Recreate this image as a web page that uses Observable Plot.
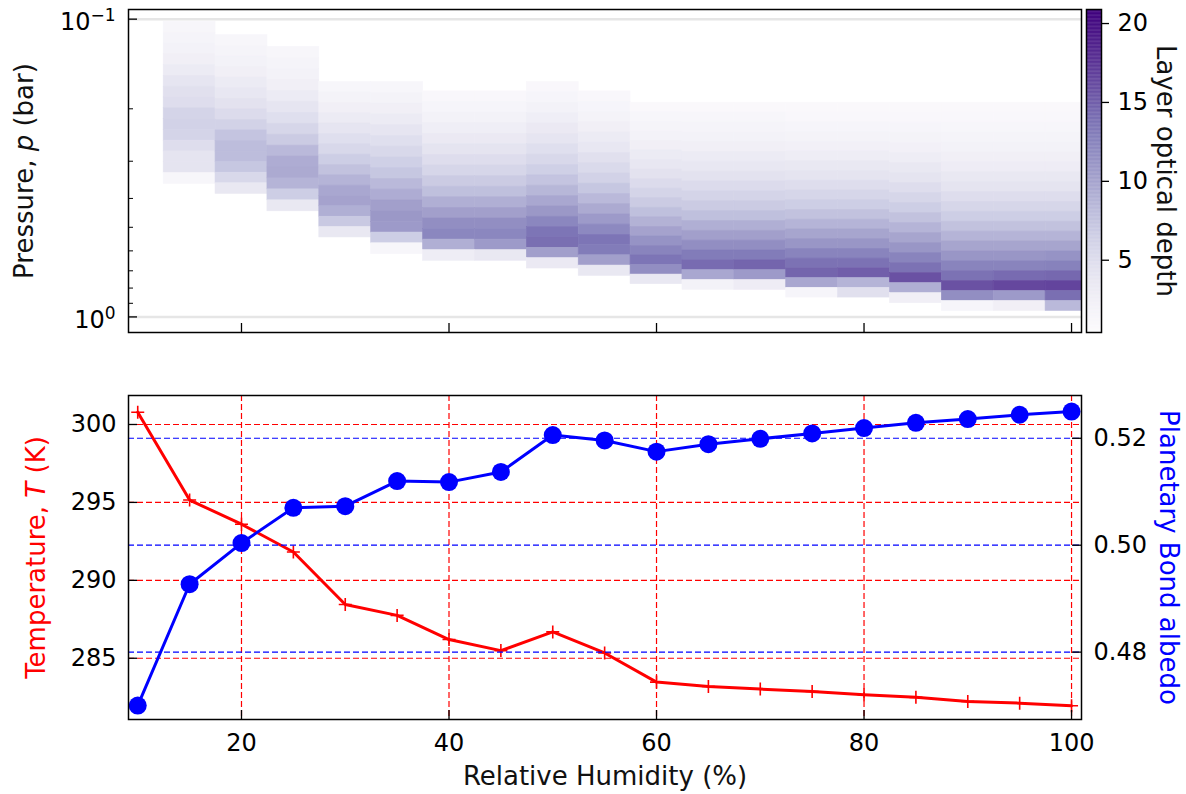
<!DOCTYPE html>
<html><head><meta charset="utf-8">
<script src="https://cdn.jsdelivr.net/npm/d3@7"></script>
<script src="https://cdn.jsdelivr.net/npm/@observablehq/plot@0.6"></script>
<style>
body{margin:0;background:#fff;}
#wrap{position:relative;width:1186px;height:794px;overflow:hidden;background:#fff;}
</style></head><body><div id="wrap"></div>
<script>
// ---------- data ----------
const humidity = [10,15,20,25,30,35,40,45,50,55,60,65,70,75,80,85,90,95,100];
const temperature = [300.79,295.15,293.6,291.82,288.45,287.75,286.2,285.49,286.69,285.34,283.47,283.19,283.02,282.87,282.66,282.49,282.23,282.12,281.95];
const albedo = [0.4700,0.4927,0.5004,0.5070,0.5073,0.5120,0.5118,0.5137,0.5206,0.5196,0.5175,0.5189,0.5199,0.5209,0.5219,0.5229,0.5236,0.5244,0.5250];

const cloudHumidity = [15,20,25,30,35,40,45,50,55,60,65,70,75,80,85,90,95,100];
const cloudTopP    = [0.1021,0.1132,0.1240,0.1626,0.1626,0.1748,0.1748,0.1626,0.1748,0.1907,0.1907,0.1907,0.1907,0.1907,0.1907,0.1907,0.1907,0.1907];
const cloudBottomP = [0.3574,0.3862,0.4419,0.5408,0.6151,0.6477,0.6477,0.6877,0.7277,0.7760,0.8111,0.8111,0.8610,0.8610,0.8992,0.9545,0.9545,0.9545];

const depthRH15 = [1.3,1.7,2.1,2.5,3.2,4.0,4.6,5.0,6.0,6.2,6.0,5.0,4.2,4.2,1.3];
const depthRH20 = [1.3,1.7,2.1,2.5,3.2,3.8,4.4,5.2,6.2,7.4,8.0,8.0,7.2,5.6,3.6];
const depthRH25 = [1.3,1.7,2.1,2.5,3.2,4.0,4.8,5.8,6.8,8.3,9.3,9.5,8.7,6.6,3.6];
const depthRH30 = [1.3,1.9,2.5,3.2,4.0,4.8,5.6,6.6,7.6,8.7,9.7,10.1,9.1,7.0,3.6];
const depthRH35 = [1.3,1.9,2.5,3.2,4.0,4.8,5.6,6.4,7.2,8.3,9.3,10.3,10.9,10.7,6.6,1.3];
const depthRH40 = [1.1,1.5,2.1,2.7,3.4,4.2,5.0,5.8,6.8,7.8,9.1,10.3,11.7,12.3,9.1,2.9];
const depthRH45 = [1.1,1.5,2.1,2.7,3.4,4.2,5.0,5.8,6.8,7.8,9.1,10.3,11.7,12.3,10.7,3.6];
const depthRH50 = [1.1,1.5,2.1,2.7,3.4,4.0,4.8,5.6,6.4,7.4,8.5,9.7,10.9,12.3,13.6,14.0,10.3,3.4];
const depthRH55 = [1.1,1.5,1.9,2.5,3.2,3.8,4.6,5.4,6.2,7.2,8.3,9.5,10.7,12.1,13.6,13.1,10.3,3.6];
const depthRH60 = [0.9,1.3,1.7,2.1,2.5,3.2,3.8,4.4,5.2,6.0,6.8,7.8,8.9,10.1,11.3,12.5,13.6,11.7,3.6];
const depthRH65 = [0.9,1.3,1.7,2.1,2.5,3.2,3.8,4.4,5.2,6.0,6.8,7.8,9.1,10.3,11.7,13.1,14.2,9.7,2.1];
const depthRH70 = [0.9,1.3,1.7,2.1,2.5,3.2,3.8,4.4,5.2,6.0,6.8,7.8,9.1,10.3,11.7,13.1,14.6,10.7,3.0];
const depthRH75 = [0.9,1.1,1.5,1.9,2.3,2.9,3.6,4.2,5.0,5.8,6.6,7.6,8.7,9.9,11.1,12.5,13.8,14.6,9.7,1.5];
const depthRH80 = [0.9,1.1,1.5,1.9,2.3,2.9,3.6,4.2,5.0,5.8,6.6,7.6,8.7,9.9,11.1,12.5,13.8,15.0,8.7,4.6];
const depthRH85 = [0.9,1.1,1.5,1.9,2.3,2.9,3.6,4.2,5.0,5.8,6.6,7.6,8.7,9.9,11.1,12.5,13.8,15.8,9.1,2.5];
const depthRH90 = [0.9,1.1,1.3,1.7,2.1,2.5,3.0,3.6,4.2,5.0,5.8,6.6,7.6,8.7,9.9,11.1,12.5,13.8,15.8,11.7,1.5];
const depthRH95 = [0.9,1.1,1.3,1.7,2.1,2.5,3.0,3.6,4.2,5.0,5.8,6.6,7.6,8.7,9.9,11.1,12.5,14.2,16.4,10.7,2.5];
const depthRH100 = [0.9,1.1,1.3,1.7,2.1,2.5,3.0,3.6,4.2,5.0,5.8,6.6,7.6,8.7,9.9,11.3,12.7,14.4,16.6,14.0,8.3];
const depthColumns = [depthRH15,depthRH20,depthRH25,depthRH30,depthRH35,depthRH40,depthRH45,depthRH50,depthRH55,depthRH60,depthRH65,depthRH70,depthRH75,depthRH80,depthRH85,depthRH90,depthRH95,depthRH100];

const humidityTicks = [20,40,60,80,100];
const tempTicks = [285,290,295,300];
const albedoTicks = [0.48,0.50,0.52];
const depthTicks = [5,10,15,20];
const pressureMajor = [0.1,1];
const pressureBase = ["10","10"];
const pressureExp = ["\u22121","0"];
const pressureMinor = [0.2,0.3,0.4,0.5,0.6,0.7,0.8,0.9];

const xLabel = "Relative Humidity (%)";
const pLabel = "Pressure, p (bar)";
const tLabel = "Temperature, T (K)";
const aLabel = "Planetary Bond albedo";
const dLabel = "Layer optical depth";

// ---------- layout ----------
const W = 1186, FONT = "DejaVu Sans", FS = 24, LFS = 26;
const xDomain = [9.11, 100.96];
const depthDomain = [0.42, 20.89];
const mL = 128, mR = 105;
const innerW = W - mL - mR;

const baseStyle = {background:"transparent", fontFamily:FONT, fontSize:FS+"px", color:"black", overflow:"visible"};
const labelOpts = {fontSize:LFS, textAnchor:"middle", lineAnchor:"middle"};

// heatmap cells
const cells = [];
const halfStep = (cloudHumidity[1]-cloudHumidity[0])/2;
cloudHumidity.forEach((rh,i)=>{
  const vals = depthColumns[i], n = vals.length;
  const lt = Math.log10(cloudTopP[i]), lb = Math.log10(cloudBottomP[i]);
  vals.forEach((v,k)=>{
    cells.push({x1:rh-halfStep, x2:rh+halfStep, y1:10**(lt+(lb-lt)*k/n), y2:10**(lt+(lb-lt)*(k+1)/n), v});
  });
});

const topH = 340, topMT = 9, topMB = 8, topInnerH = topH-topMT-topMB;
const heat = Plot.plot({
  width:W, height:topH, marginLeft:mL, marginRight:mR, marginTop:topMT, marginBottom:topMB,
  style:baseStyle,
  x:{domain:xDomain, axis:null},
  y:{type:"log", domain:[1.128,0.0928]},
  color:{type:"linear", scheme:"purples", domain:depthDomain},
  marks:[
    Plot.rect(cells,{x1:"x1",x2:"x2",y1:"y1",y2:"y2",fill:"v",stroke:"v",strokeWidth:0.6,clip:true}),
    Plot.ruleY(pressureMajor,{stroke:"#e6e6e6",strokeWidth:2.5}),
    Plot.ruleX(humidityTicks,{insetTop:topInnerH-9,stroke:"black",strokeWidth:1.3}),
    Plot.ruleY(pressureMajor,{insetRight:innerW-9,stroke:"black",strokeWidth:1.3}),
    Plot.ruleY(pressureMinor,{insetRight:innerW-5,stroke:"black",strokeWidth:1}),
    Plot.axisY(pressureMajor,{anchor:"left",tickSize:0,tickPadding:13,label:null,fontSize:FS,dy:3,
      tickFormat:d=>pressureBase[pressureMajor.indexOf(d)]+"^"+pressureExp[pressureMajor.indexOf(d)]}),
    Plot.text([pLabel],{frameAnchor:"left",rotate:-90,dx:-104,fill:"#111",...labelOpts}),
    Plot.frame({stroke:"black",strokeWidth:1.5})
  ]
});

const cbarStep = 0.05;
const cbarSteps = d3.range(depthDomain[0], depthDomain[1], cbarStep);
const cbar = Plot.plot({
  width:W, height:topH, marginLeft:1086, marginRight:W-1101, marginTop:topMT, marginBottom:topMB,
  style:baseStyle,
  x:{domain:[0,1], axis:null},
  y:{domain:depthDomain},
  color:{type:"linear", scheme:"purples", domain:depthDomain},
  marks:[
    Plot.rect(cbarSteps,{y1:d=>d,y2:d=>Math.min(d+cbarStep*1.5,depthDomain[1]),fill:d=>d+cbarStep/2}),
    Plot.axisY(depthTicks,{anchor:"right",tickSize:7,tickPadding:9,label:null,fontSize:FS,strokeWidth:1.3}),
    Plot.text([dLabel],{frameAnchor:"right",rotate:90,dx:64,fill:"#111",...labelOpts}),
    Plot.frame({stroke:"black",strokeWidth:1.5})
  ]
});

// bottom panel
const botH = 434, botMT = 35, botMB = 75, botInnerH = botH-botMT-botMB;
const series = humidity.map((h,i)=>({h, T:temperature[i], A:albedo[i]}));
const plusSymbol = {draw(ctx,size){const r=Math.sqrt(size/Math.PI);ctx.moveTo(-r,0);ctx.lineTo(r,0);ctx.moveTo(0,-r);ctx.lineTo(0,r);}};
const dash = "6,3";

const tempPlot = Plot.plot({
  width:W, height:botH, marginLeft:mL, marginRight:mR, marginTop:botMT, marginBottom:botMB,
  style:baseStyle,
  x:{domain:xDomain},
  y:{domain:[281.07,301.86]},
  marks:[
    Plot.ruleX(humidityTicks,{stroke:"red",strokeWidth:1.2,strokeDasharray:dash}),
    Plot.ruleY(tempTicks,{stroke:"red",strokeWidth:1.2,strokeDasharray:dash}),
    Plot.line(series,{x:"h",y:"T",stroke:"red",strokeWidth:3}),
    Plot.dot(series,{x:"h",y:"T",symbol:plusSymbol,r:6.5,stroke:"red",fill:"none",strokeWidth:1.6}),
    Plot.ruleX(humidityTicks,{insetTop:botInnerH-9,stroke:"black",strokeWidth:1.3}),
    Plot.ruleY(tempTicks,{insetRight:innerW-9,stroke:"black",strokeWidth:1.3}),
    Plot.axisX(humidityTicks,{anchor:"bottom",tickSize:0,tickPadding:14,label:null,fontSize:FS}),
    Plot.axisY(tempTicks,{anchor:"left",tickSize:0,tickPadding:12,label:null,fontSize:FS}),
    Plot.text([xLabel],{frameAnchor:"bottom",dy:57,fill:"#111",...labelOpts}),
    Plot.text([tLabel],{frameAnchor:"left",rotate:-90,dx:-92,fill:"red",...labelOpts})
  ]
});

const albPlot = Plot.plot({
  width:W, height:botH, marginLeft:mL, marginRight:mR, marginTop:botMT, marginBottom:botMB,
  style:baseStyle,
  x:{domain:xDomain, axis:null},
  y:{domain:[0.4674,0.5280]},
  marks:[
    Plot.ruleY(albedoTicks,{stroke:"blue",strokeWidth:1.2,strokeDasharray:dash}),
    Plot.line(series,{x:"h",y:"A",stroke:"blue",strokeWidth:3}),
    Plot.dot(series,{x:"h",y:"A",r:9,fill:"blue",stroke:"none"}),
    Plot.ruleY(albedoTicks,{insetLeft:innerW-9,stroke:"black",strokeWidth:1.3}),
    Plot.axisY(albedoTicks,{anchor:"right",tickSize:0,tickPadding:12,label:null,fontSize:FS,tickFormat:d3.format(".2f")}),
    Plot.text([aLabel],{frameAnchor:"right",rotate:90,dx:87,fill:"blue",...labelOpts}),
    Plot.frame({stroke:"black",strokeWidth:1.5})
  ]
});

function italicize(svg, full, pre, it, post){
  d3.select(svg).selectAll("text").filter(function(){return this.textContent===full;}).each(function(){
    const t = d3.select(this); t.text(null);
    t.append("tspan").text(pre);
    t.append("tspan").attr("font-style","italic").text(it);
    t.append("tspan").text(post);
  });
}
italicize(heat, pLabel, "Pressure, ", "p", " (bar)");
italicize(tempPlot, tLabel, "Temperature, ", "T", " (K)");

// mathtext-like superscripts on the log axis labels
d3.select(heat).selectAll("text").each(function(){
  const s = this.textContent, j = s.indexOf("^");
  if (j < 0) return;
  const t = d3.select(this); t.text(null);
  t.append("tspan").text(s.slice(0,j));
  t.append("tspan").attr("font-size",17).attr("dy","-0.5em").text(s.slice(j+1));
});

const wrap = document.getElementById("wrap");
[[heat,0],[cbar,0],[tempPlot,360],[albPlot,360]].forEach(([s,top])=>{
  s.style.position="absolute"; s.style.left="0px"; s.style.top=top+"px";
  wrap.appendChild(s);
});
</script></body></html>
